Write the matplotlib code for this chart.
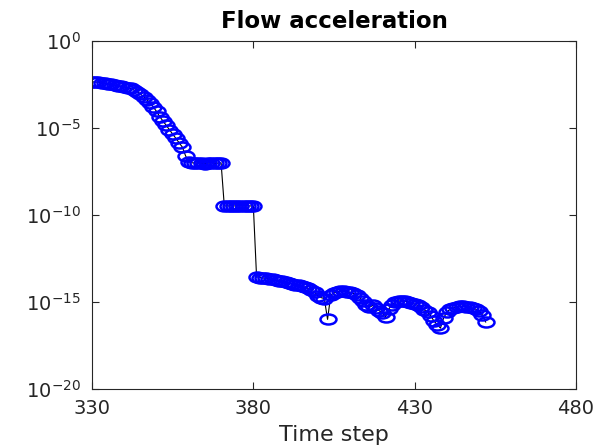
import numpy as np
import matplotlib
matplotlib.use("Agg")
from matplotlib import pyplot as plt
from matplotlib.path import Path
from matplotlib.transforms import Affine2D

# time steps 330..452, one value per step
steps = np.arange(330, 453)

# log10 of the flow acceleration
log_accel = [
    # 330-359: smooth decay
    -2.35, -2.36, -2.37, -2.40, -2.43, -2.46, -2.50, -2.53, -2.57, -2.60,
    -2.64, -2.68, -2.73, -2.82, -2.92, -3.05, -3.20, -3.38, -3.56, -3.80,
    -4.05, -4.35, -4.60, -4.85, -5.10, -5.35, -5.60, -5.85, -6.10, -6.60,
    # 360-370: first plateau
    -6.95, -7.00, -7.02, -7.00, -7.03, -7.05, -7.02, -7.00, -7.04, -7.02,
    -7.00,
    # 371-380: second plateau
    -9.48, -9.48, -9.48, -9.48, -9.48, -9.48, -9.48, -9.48, -9.48, -9.48,
    # 381-452: noise floor
    -13.55, -13.60, -13.62, -13.65, -13.68, -13.70, -13.75, -13.78, -13.82, -13.86,
    -13.90, -13.95, -14.00, -14.05, -14.10, -14.15, -14.22, -14.30, -14.45, -14.65,
    -14.75, -14.80, -16.00, -14.60, -14.48, -14.42, -14.38, -14.38, -14.40, -14.45,
    -14.50, -14.60, -14.75, -14.95, -15.15, -15.30, -15.20, -15.35, -15.50, -15.65,
    -15.85, -15.40, -15.15, -15.00, -14.95, -14.92, -14.95, -15.00, -15.05, -15.12,
    -15.20, -15.30, -15.45, -15.60, -15.80, -16.10, -16.30, -16.50, -15.90, -15.60,
    -15.40, -15.32, -15.28, -15.25, -15.25, -15.28, -15.30, -15.35, -15.42, -15.50,
    -15.75, -16.15,
]

x_ticks = [330, 380, 430, 480]
y_ticks = [1e-20, 1e-15, 1e-10, 1e-5, 1e0]
y_labels = [r"$10^{-20}$", r"$10^{-15}$", r"$10^{-10}$", r"$10^{-5}$", r"$10^{0}$"]

accel = 10.0 ** np.array(log_accel)

# the reference was stretched sideways, so the circles look like ellipses
ellipse = Affine2D().scale(1.6, 1.0).transform_path(Path.unit_circle())

plt.rcParams["font.family"] = ["DejaVu Sans"]
plt.rcParams["mathtext.fontset"] = "dejavusans"
ink = "#262626"

fig = plt.figure(figsize=(5.96, 4.47), dpi=100)
ax = fig.add_axes([0.1544, 0.1298, 0.812, 0.7785])

ax.semilogy(steps, accel, color="black", linewidth=0.8, zorder=1)
ax.semilogy(steps, accel, linestyle="none", marker=ellipse, markersize=11.5,
            markerfacecolor="none", markeredgecolor="#0000ff",
            markeredgewidth=1.8, zorder=2)

ax.set_xlim(330, 480)
ax.set_ylim(1e-20, 1e0)
ax.set_xticks(x_ticks)
ax.set_xticklabels([str(t) for t in x_ticks])
ax.set_yticks(y_ticks)
ax.set_yticklabels(y_labels)
ax.minorticks_off()

ax.tick_params(axis="both", which="major", direction="in", length=5,
               width=0.8, labelsize=14, colors=ink, top=True, right=True)
ax.tick_params(axis="x", pad=7)
ax.tick_params(axis="y", pad=8)
for spine in ax.spines.values():
    spine.set_color(ink)
    spine.set_linewidth(0.8)

ax.set_xlabel("Time step", fontsize=16, color=ink, labelpad=5)
ax.set_title("Flow acceleration", fontsize=16.5, fontweight="bold",
             color="black", pad=9)

fig.savefig("out.png", dpi=100)
